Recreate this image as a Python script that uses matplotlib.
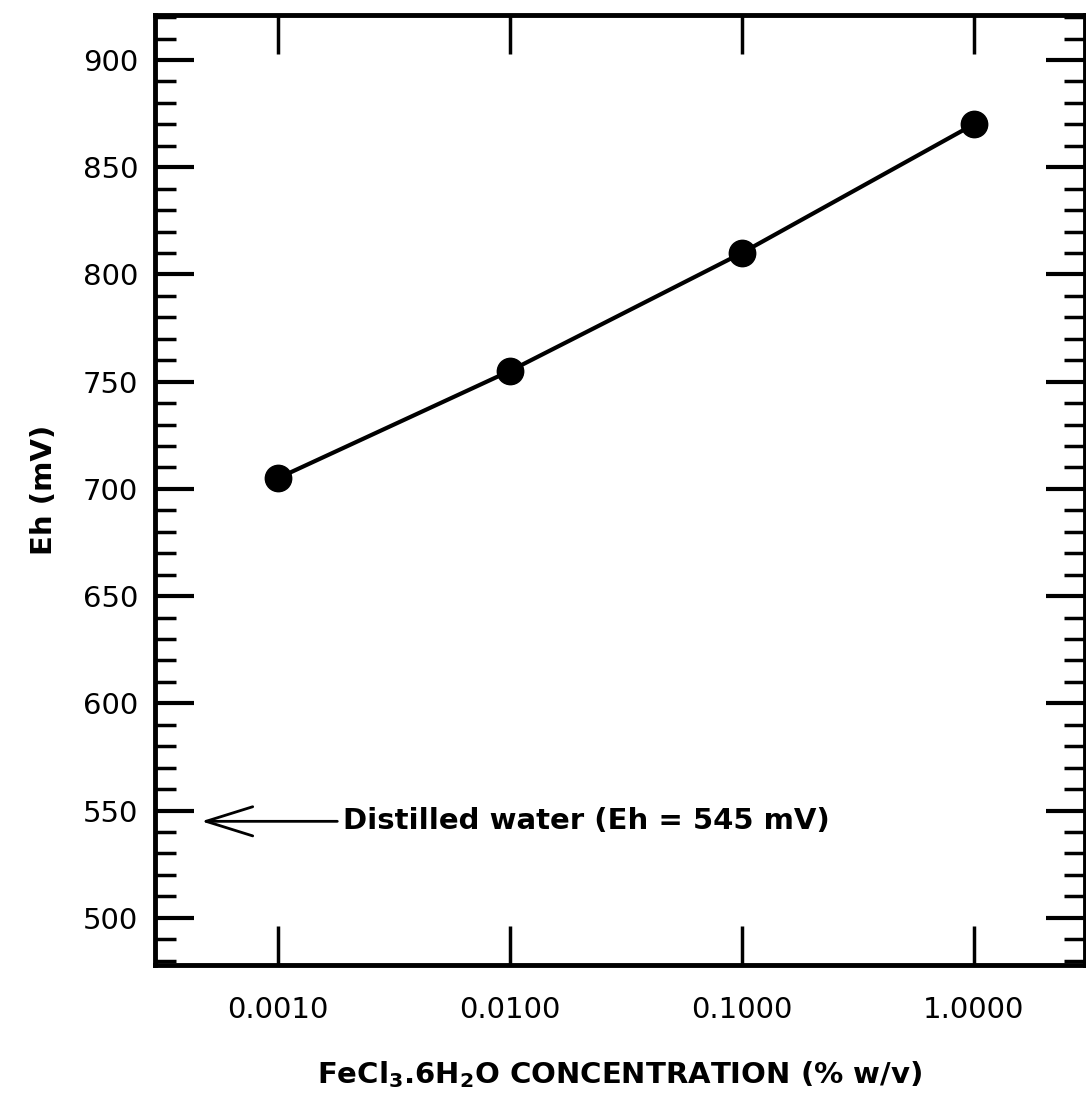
import matplotlib
matplotlib.use("Agg")
import matplotlib.pyplot as plt
from matplotlib.ticker import FixedLocator, MultipleLocator, NullLocator

plt.rcParams['font.family'] = ['DejaVu Sans']
plt.rcParams['mathtext.default'] = 'regular'

# data
conc = [0.001, 0.01, 0.1, 1.0]
eh = [705, 755, 810, 870]
xtick_vals = [0.001, 0.01, 0.1, 1.0]
xtick_labels = ['0.0010', '0.0100', '0.1000', '1.0000']
water_eh = 545

fig = plt.figure(figsize=(10.86, 11.01), dpi=100)
ax = fig.add_axes([155/1086, 1 - 965/1101, 930/1086, 950/1101])

ax.plot(conc, eh, color='black', lw=3, marker='o', ms=19, zorder=3)

ax.set_xscale('log')
ax.set_xlim(10**-3.53, 10**0.48)
ax.set_ylim(478, 921)

ax.xaxis.set_major_locator(FixedLocator(xtick_vals))
ax.xaxis.set_minor_locator(NullLocator())
ax.set_xticklabels(xtick_labels)
ax.yaxis.set_major_locator(MultipleLocator(50))
ax.yaxis.set_minor_locator(MultipleLocator(10))

for s in ax.spines.values():
    s.set_linewidth(3.5)

ax.tick_params(axis='x', which='major', direction='in', top=True, bottom=True,
               length=28, width=2.5, labelsize=21, pad=22)
ax.tick_params(axis='y', which='major', direction='in', left=True, right=True,
               length=28, width=3, labelsize=21, pad=12)
ax.tick_params(axis='y', which='minor', direction='in', left=True, right=True,
               length=15, width=2.5)

ax.annotate('Distilled water (Eh = 545 mV)', xy=(10**-3.33, water_eh),
            xytext=(10**-2.72, water_eh), fontsize=21, fontweight='bold',
            va='center', ha='left',
            arrowprops=dict(arrowstyle='->,head_length=1.6,head_width=0.5',
                            lw=2, color='black', shrinkA=2, shrinkB=0))

ax.set_xlabel('FeCl$_3$.6H$_2$O CONCENTRATION (% w/v)', fontsize=21,
              fontweight='bold', labelpad=26)
ax.set_ylabel('Eh (mV)', fontsize=21, fontweight='bold', labelpad=18)

fig.savefig('out.png', dpi=100)
